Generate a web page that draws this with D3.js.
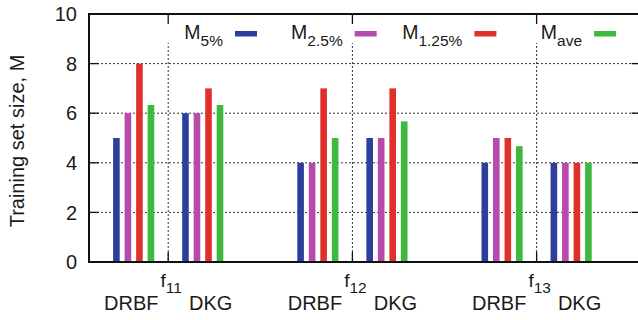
<!DOCTYPE html>
<html>
<head>
<meta charset="utf-8">
<script src="https://cdn.jsdelivr.net/npm/d3@7"></script>
<style>
  html, body { margin: 0; padding: 0; background: #fff; }
  svg { display: block; }
  text { font-family: "Liberation Sans", Arial, Helvetica, sans-serif; fill: #1a1a1a; }
</style>
</head>
<body>
<script>
// ---------- data ----------
const functions = ["11", "12", "13"];          // f subscripts
const methods = ["DRBF", "DKG"];
const seriesNames = ["5%", "2.5%", "1.25%", "ave"]; // M subscripts
const seriesColors = ["#2c3f9c", "#b849ad", "#e0302a", "#3cb93e"];
// values ordered: f11 DRBF, f11 DKG, f12 DRBF, f12 DKG, f13 DRBF, f13 DKG
const m5   = [5, 6, 4, 5, 4, 4];
const m25  = [6, 6, 4, 5, 5, 4];
const m125 = [8, 7, 7, 7, 5, 4];
const mave = [6.33, 6.33, 5, 5.67, 4.67, 4];
const seriesValues = [m5, m25, m125, mave];
const yTicks = [0, 2, 4, 6, 8, 10];

// ---------- layout ----------
const W = 638, H = 320;
const pL = 89, pR = 641.6, pT = 14, pB = 262;

const svg = d3.select("body").append("svg").attr("width", W).attr("height", H);

const x = d3.scaleLinear().domain([0.57, 3.57]).range([pL, pR]);
const y = d3.scaleLinear().domain([0, 10]).range([pB, pT]);

const groupOffset = 0.1875, barStep = 0.0625, barW = 6.6;

// grid
const grid = svg.append("g").attr("stroke", "#333").attr("stroke-width", 1).attr("stroke-dasharray", "2,2");
grid.selectAll("line.h").data(yTicks.filter(d => d > 0 && d < 10)).join("line")
  .attr("x1", pL).attr("x2", pR).attr("y1", d => y(d)).attr("y2", d => y(d));
grid.selectAll("line.v").data(functions.map((f, i) => i + 1)).join("line")
  .attr("x1", d => x(d)).attr("x2", d => x(d)).attr("y1", pT).attr("y2", pB);

// bars
const bars = [];
functions.forEach((f, fi) => {
  methods.forEach((m, mi) => {
    const center = (fi + 1) + (mi === 0 ? -groupOffset : groupOffset);
    seriesValues.forEach((vals, si) => {
      bars.push({ xv: center + (si - 1.5) * barStep, v: vals[fi * 2 + mi], c: seriesColors[si] });
    });
  });
});
svg.append("g").selectAll("rect").data(bars).join("rect")
  .attr("x", d => x(d.xv) - barW / 2).attr("width", barW)
  .attr("y", d => y(d.v)).attr("height", d => y(0) - y(d.v))
  .attr("fill", d => d.c);

// legend (opaque key)
svg.append("rect").attr("x", 160).attr("y", pT + 1).attr("width", pR - 160).attr("height", 28).attr("fill", "#fff");
const legX0 = 235, legStep = 119.7;
const leg = svg.append("g");
seriesNames.forEach((s, i) => {
  const sx = legX0 + i * legStep;
  leg.append("rect").attr("x", sx).attr("y", 31).attr("width", 22).attr("height", 5.5).attr("fill", seriesColors[i]);
  const t = leg.append("text").attr("x", sx - 12).attr("y", 39).attr("text-anchor", "end");
  t.append("tspan").attr("font-size", 19.5).text("M");
  t.append("tspan").attr("font-size", 15.5).attr("dy", 6.5).text(s);
});

// ticks
const tk = svg.append("g").attr("stroke", "#111").attr("stroke-width", 1.3);
yTicks.filter(d => d > 0 && d < 10).forEach(d => {
  tk.append("line").attr("x1", pL).attr("x2", pL + 10).attr("y1", y(d)).attr("y2", y(d));
  tk.append("line").attr("x1", pR - 10).attr("x2", pR).attr("y1", y(d)).attr("y2", y(d));
});
functions.forEach((f, i) => {
  tk.append("line").attr("x1", x(i + 1)).attr("x2", x(i + 1)).attr("y1", pB).attr("y2", pB - 10);
  tk.append("line").attr("x1", x(i + 1)).attr("x2", x(i + 1)).attr("y1", pT).attr("y2", pT + 10);
});

// border
svg.append("rect").attr("x", pL).attr("y", pT).attr("width", pR - pL).attr("height", pB - pT)
  .attr("fill", "none").attr("stroke", "#111").attr("stroke-width", 2);

// y tick labels
svg.append("g").selectAll("text").data(yTicks).join("text")
  .attr("x", pL - 12).attr("y", d => y(d)).attr("dy", "0.36em")
  .attr("text-anchor", "end").attr("font-size", 20).text(d => d);

// y axis label
svg.append("text").attr("transform", `translate(23.5,141) rotate(-90)`)
  .attr("text-anchor", "middle").attr("font-size", 20).text("Training set size, M");

// x labels
functions.forEach((f, i) => {
  const t = svg.append("text").attr("x", x(i + 1)).attr("y", 310).attr("text-anchor", "middle");
  t.append("tspan").attr("font-size", 20).text(methods[0]);
  t.append("tspan").attr("font-size", 19).attr("dx", 2).attr("dy", -23).text("f");
  t.append("tspan").attr("font-size", 15.5).attr("dy", 6.3).text(f);
  t.append("tspan").attr("font-size", 20).attr("dx", 7).attr("dy", 16.7).text(methods[1]);
});
</script>
</body>
</html>
